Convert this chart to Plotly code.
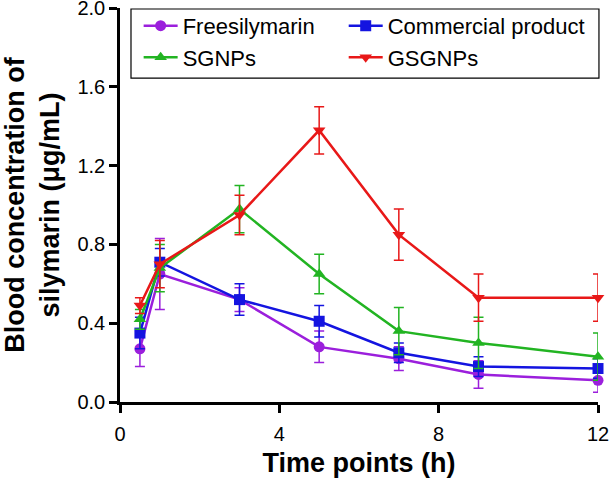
import plotly.graph_objects as go

time_h = [0.5, 1, 3, 5, 7, 9, 12]

free_vals = [0.27, 0.65, 0.52, 0.28, 0.22, 0.14, 0.11]
free_err = [0.09, 0.18, 0.06, 0.08, 0.06, 0.07, 0.06]

comm_vals = [0.35, 0.71, 0.52, 0.41, 0.25, 0.18, 0.17]
comm_err = [0.08, 0.07, 0.08, 0.08, 0.05, 0.05, 0.05]

sgnp_vals = [0.42, 0.68, 0.98, 0.65, 0.36, 0.30, 0.23]
sgnp_err = [0.05, 0.12, 0.12, 0.10, 0.12, 0.13, 0.12]

gsgnp_vals = [0.49, 0.70, 0.95, 1.38, 0.85, 0.53, 0.53]
gsgnp_err = [0.04, 0.12, 0.10, 0.12, 0.13, 0.12, 0.12]

series = [
    ("Freesilymarin", free_vals, free_err, "#9b1fdc", "circle", "legend"),
    ("Commercial product", comm_vals, comm_err, "#1414e0", "square", "legend2"),
    ("SGNPs", sgnp_vals, sgnp_err, "#22b422", "triangle-up", "legend"),
    ("GSGNPs", gsgnp_vals, gsgnp_err, "#e81818", "triangle-down", "legend2"),
]

fig = go.Figure()
for name, vals, err, col, sym, leg in series:
    fig.add_trace(go.Scatter(
        x=time_h, y=vals, name=name, mode="lines+markers",
        line=dict(color=col, width=2.5),
        marker=dict(color=col, symbol=sym, size=11),
        error_y=dict(type="data", array=err, visible=True, color=col,
                     thickness=1.5, width=5),
        cliponaxis=False, legend=leg,
    ))

legend_common = dict(
    yanchor="top", xanchor="left", orientation="v",
    bgcolor="rgba(0,0,0,0)", borderwidth=0,
    font=dict(size=22), itemwidth=34, traceorder="normal",
)

fig.update_layout(
    width=610, height=479,
    margin=dict(l=120, r=12, t=8, b=77, autoexpand=False),
    paper_bgcolor="white", plot_bgcolor="white",
    font=dict(family="Arial, Liberation Sans, sans-serif", color="black", size=20),
    showlegend=True,
    legend=dict(x=0.039, y=1.008, **legend_common),
    legend2=dict(x=0.468, y=1.008, **legend_common),
    shapes=[dict(type="rect", xref="paper", yref="paper",
                 x0=0.023, x1=1.002, y0=0.822, y1=0.9975,
                 line=dict(color="black", width=1.2), fillcolor="rgba(0,0,0,0)",
                 layer="above")],
    xaxis=dict(
        range=[0, 12], tickvals=[0, 4, 8, 12], showgrid=False, zeroline=False,
        showline=True, linecolor="black", linewidth=2.5, automargin=False,
        ticks="outside", ticklen=8, tickwidth=2.5, tickcolor="black",
        tickfont=dict(size=20), ticklabeloverflow="allow", ticklabelstandoff=4,
        title=dict(text="<b>Time points (h)</b>", font=dict(size=27), standoff=10),
    ),
    yaxis=dict(
        range=[0, 2.001], tickvals=[0, 0.4, 0.8, 1.2, 1.6, 2.0], tickformat=".1f",
        showgrid=False, zeroline=False, automargin=False,
        showline=True, linecolor="black", linewidth=2.5,
        ticks="outside", ticklen=8, tickwidth=2.5, tickcolor="black",
        tickfont=dict(size=20), ticklabeloverflow="allow",
        title=dict(text="<b>Blood concentration of<br>silymarin (μg/mL)</b>",
                   font=dict(size=27), standoff=14),
    ),
)

fig.write_html("out.html", config={"displayModeBar": False},
               post_script="document.body.style.margin='0';")
